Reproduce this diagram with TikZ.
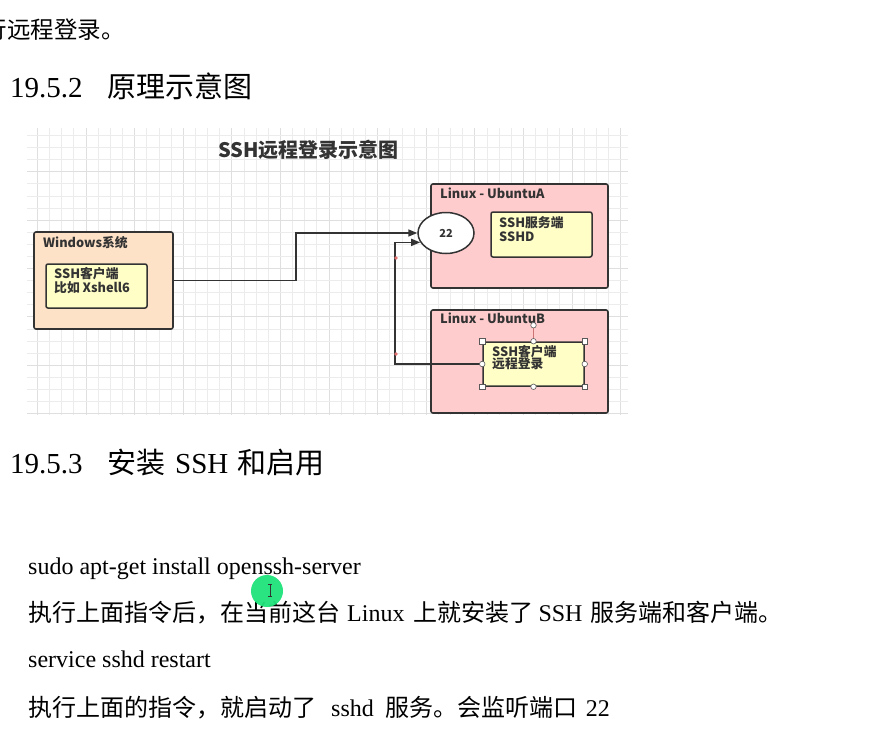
\documentclass[tikz,border=0pt]{standalone}
\usepackage{fontspec}
\setmainfont{Liberation Serif}
\newfontfamily\cjk{Noto Sans CJK SC}
\newfontfamily\dgfont{Noto Sans CJK SC}
\usetikzlibrary{arrows.meta,shapes.geometric}
\definecolor{dk}{HTML}{333333}
\definecolor{peach}{HTML}{FDE2C8}
\definecolor{pinkbox}{HTML}{FFCCCE}
\definecolor{yel}{HTML}{FFFEC6}
\definecolor{gridminor}{HTML}{ECECEC}
\definecolor{gridmajor}{HTML}{DFDFDF}
\definecolor{reddot}{HTML}{E07070}
\definecolor{cursorgreen}{HTML}{1EE37A}
\tikzset{
  txt/.style={anchor=base west, inner sep=0pt, text=black},
  box/.style={draw=dk, line width=1.6pt, rounded corners=2pt, inner sep=0pt},
  inbox/.style={draw=dk, line width=1.5pt, rounded corners=2pt, fill=yel, inner sep=0pt},
  lbl/.style={anchor=base west, inner sep=0pt, text=dk, font=\fontsize{12.8}{14}\selectfont\dgfont\bfseries},
  conn/.style={draw=dk, line width=1.6pt, -{Triangle[length=9pt,width=7pt]}},
  hsq/.style={rectangle, draw=gray!70!black, fill=white, line width=0.6pt, minimum size=5.5pt, inner sep=0pt},
  hci/.style={circle, draw=gray!70!black, fill=white, line width=0.6pt, minimum size=5.5pt, inner sep=0pt},
}
\begin{document}
\begin{tikzpicture}[x=1pt,y=-1pt]
\useasboundingbox (0,0) rectangle (870,737);
\fill[white] (0,0) rectangle (870,737);

% ---- page text above the diagram
\node[txt, font=\fontsize{23.5}{26}\selectfont\cjk] (topline) at (-16.5,38.5) {行远程登录。};
\node[txt, font=\fontsize{29}{34}\selectfont] (h1num) at (10,97) {19.5.2};
\node[txt, font=\fontsize{29}{34}\selectfont\cjk] (h1txt) at (107,97) {原理示意图};

% ---- grid background
\foreach \k in {0,...,48} {
  \pgfmathsetmacro\xx{37.3+12.15*\k}
  \pgfmathtruncatemacro\m{mod(\k,4)}
  \ifnum\m=0
    \draw[gridmajor, line width=0.7pt] (\xx,128) -- (\xx,415);
  \else
    \draw[gridminor, line width=0.6pt] (\xx,128) -- (\xx,415);
  \fi
}
\foreach \k in {0,...,23} {
  \pgfmathsetmacro\yy{135.3+12.1*\k}
  \pgfmathtruncatemacro\m{mod(\k,4)}
  \ifnum\m=3
    \draw[gridmajor, line width=0.7pt] (27,\yy) -- (628,\yy);
  \else
    \draw[gridminor, line width=0.6pt] (27,\yy) -- (628,\yy);
  \fi
}

% ---- diagram title
\node[anchor=base west, inner sep=0pt, text=dk, font=\fontsize{20}{22}\selectfont\dgfont\bfseries] (title) at (218,157) {SSH远程登录示意图};

% ---- Windows box
\node[box, fill=peach, minimum width=139pt, minimum height=97pt] (win) at (103.5,280.5) {};
\node[lbl] (winlbl) at (43,247) {Windows系统};
\node[inbox, minimum width=101pt, minimum height=44pt] (cliW) at (96.5,286) {};
\node[lbl] (cliW1) at (54,278) {SSH客户端};
\node[lbl] (cliW2) at (54,292) {比如 Xshell6};

% ---- Ubuntu A
\node[box, fill=pinkbox, minimum width=177pt, minimum height=104pt] (ubA) at (519.5,236) {};
\node[lbl] (ubAlbl) at (440,198) {Linux - UbuntuA};
\node[inbox, minimum width=101pt, minimum height=45pt] (srvA) at (541.5,234.5) {};
\node[lbl] (srvA1) at (499,227.5) {SSH服务端};
\node[lbl] (srvA2) at (499,241) {SSHD};
\node[ellipse, draw=dk, line width=1.5pt, fill=white, minimum width=56pt, minimum height=41pt, inner sep=0pt,
      text=dk, font=\fontsize{11}{12}\selectfont\dgfont\bfseries] (port) at (446,233) {22};

% ---- Ubuntu B
\node[box, fill=pinkbox, minimum width=177pt, minimum height=103pt] (ubB) at (519.5,361.5) {};
\node[lbl] (ubBlbl) at (440,323) {Linux - UbuntuB};
\node[inbox, minimum width=101pt, minimum height=44pt] (cliB) at (533.5,364) {};
\node[lbl] (cliB1) at (492,356) {SSH客户端};
\node[lbl] (cliB2) at (492,368.5) {远程登录};

% ---- connectors
\draw[conn] (win.east) -- ++(122,0) |- (port.west);
\draw[conn] (cliB.west) -- ++(-87,0) |- (port.200);
\fill[reddot] (396,258) circle (1.8pt);
\fill[reddot] (396,354) circle (1.8pt);

% ---- selection handles on the client box of UbuntuB
\draw[reddot!80!gray, line width=0.8pt] (cliB.north) -- ([yshift=16pt]cliB.north);
\node[hci] (hrot) at ([yshift=16pt]cliB.north) {};
\node[hsq] (hnw) at (cliB.north west) {};
\node[hsq] (hne) at (cliB.north east) {};
\node[hsq] (hsw) at (cliB.south west) {};
\node[hsq] (hse) at (cliB.south east) {};
\node[hci] (hn) at (cliB.north) {};
\node[hci] (hs) at (cliB.south) {};
\node[hci] (hw) at (cliB.west) {};
\node[hci] (he) at (cliB.east) {};

% ---- page text below the diagram
\node[txt, font=\fontsize{29}{34}\selectfont] (h2num) at (10,473) {19.5.3};
\node[txt, font=\fontsize{29}{34}\selectfont] (h2txt) at (107,473) {{\cjk 安装}\hspace{10pt}SSH\hspace{9pt}{\cjk 和启用}};

\node[txt, font=\fontsize{24}{28}\selectfont] (l1) at (28,574) {sudo apt-get install openssh-server};
\node[txt, font=\fontsize{24}{28}\selectfont] (l2) at (28,621) {{\cjk 执行上面指令后，在当前这台}\hspace{7pt}Linux\hspace{9pt}{\cjk 上就安装了}\hspace{5pt}SSH\hspace{8pt}{\cjk 服务端和客户端。}};
\node[txt, font=\fontsize{24}{28}\selectfont] (l3) at (28,667) {service sshd restart};
\node[txt, font=\fontsize{24}{28}\selectfont] (l4) at (28,716) {{\cjk 执行上面的指令，就启动了}\hspace{15pt}sshd\hspace{12pt}{\cjk 服务。会监听端口}\hspace{8pt}22};

% ---- cursor highlight
\fill[cursorgreen, fill opacity=0.95] (267,591) circle (16pt);
\draw[black!80, line width=0.7pt] (270,584) -- (270,596) (268,584) -- (272,584) (268,596) -- (272,596);
\end{tikzpicture}
\end{document}
